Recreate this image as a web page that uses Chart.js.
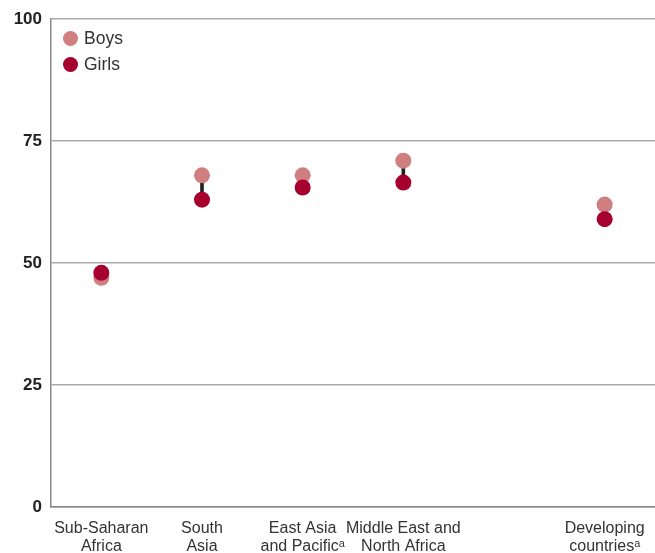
<!DOCTYPE html>
<html>
<head>
<meta charset="utf-8">
<script src="https://cdn.jsdelivr.net/npm/chart.js@4/dist/chart.umd.min.js"></script>
<style>
  html, body { margin: 0; padding: 0; background: #fff; overflow: hidden; }
  #wrap { position: relative; width: 655px; height: 553px; }
  canvas { display: block; }
  #legend { position: absolute; left: 63px; top: 26px; font-family: "Liberation Sans", Arial, sans-serif; font-size: 17.5px; color: #333; }
  #legend div { height: 26px; line-height: 24px; }
  #legend span.dot { display: inline-block; width: 15px; height: 15px; border-radius: 50%; vertical-align: -2px; margin-right: 6px; }
</style>
</head>
<body>
<div id="wrap">
  <canvas id="chart" width="655" height="553"></canvas>
  <div id="legend"></div>
</div>
<script>
const categories = [
    ['Sub-Saharan', 'Africa'],
    ['South', 'Asia'],
    ['East Asia', 'and Pacific\u1d43'],
    ['Middle East and', 'North Africa'],
    '',
    ['Developing', 'countries\u1d43']
];
const boys = [47, 68, 68, 71, null, 62];
const girls = [48, 63, 65.5, 66.5, null, 59];
const yTicks = [0, 25, 50, 75, 100];

const boysColor = '#cf7f80';
const girlsColor = '#a6002f';
const labelFont = '"Liberation Sans Narrow", "Liberation Sans", Arial, sans-serif';

// gap between girls and boys, drawn as a thin floating bar
const gaps = boys.map((b, i) => (b === null ? null : [girls[i], b]));

const ctx = document.getElementById('chart').getContext('2d');
new Chart(ctx, {
    data: {
        labels: categories,
        datasets: [
            {
                type: 'bar',
                label: 'gap',
                data: gaps,
                backgroundColor: '#222',
                barThickness: 3,
                order: 3,
            },
            {
                type: 'line',
                label: 'Boys',
                data: boys,
                showLine: false,
                pointRadius: 8,
                pointBackgroundColor: boysColor,
                pointBorderWidth: 0,
                order: 2,
            },
            {
                type: 'line',
                label: 'Girls',
                data: girls,
                showLine: false,
                pointRadius: 8,
                pointBackgroundColor: girlsColor,
                pointBorderWidth: 0,
                order: 1,
            }
        ]
    },
    options: {
        responsive: false,
        animation: false,
        layout: { autoPadding: false, padding: { top: 19, right: -4, left: 0, bottom: 0 } },
        plugins: {
            legend: { display: false },
            tooltip: { enabled: false }
        },
        scales: {
            x: {
                offset: true,
                grid: { display: false },
                border: { color: '#888', width: 1.5 },
                ticks: {
                    color: '#333',
                    font: { family: labelFont, size: 16, lineHeight: 1.15 },
                    padding: 4,
                    maxRotation: 0,
                    autoSkip: false
                },
                afterFit: (axis) => {
                    axis.height = 46;
                    axis.paddingLeft = 0;
                    axis.paddingRight = 0;
                }
            },
            y: {
                min: 0,
                max: 100,
                afterBuildTicks: (axis) => { axis.ticks = yTicks.map(v => ({ value: v })); },
                grid: { color: '#aaa', lineWidth: 1.5, drawTicks: false },
                border: { color: '#888', width: 1.5 },
                ticks: {
                    color: '#222',
                    font: { family: '"Liberation Sans", Arial, sans-serif', size: 17, weight: 'bold' },
                    padding: 9
                },
                afterFit: (axis) => { axis.width = 51; }
            }
        }
    }
});

document.getElementById('legend').innerHTML = [['Boys', boysColor], ['Girls', girlsColor]]
    .map(([name, c]) => '<div><span class="dot" style="background:' + c + '"></span>' + name + '</div>')
    .join('');
</script>
</body>
</html>
